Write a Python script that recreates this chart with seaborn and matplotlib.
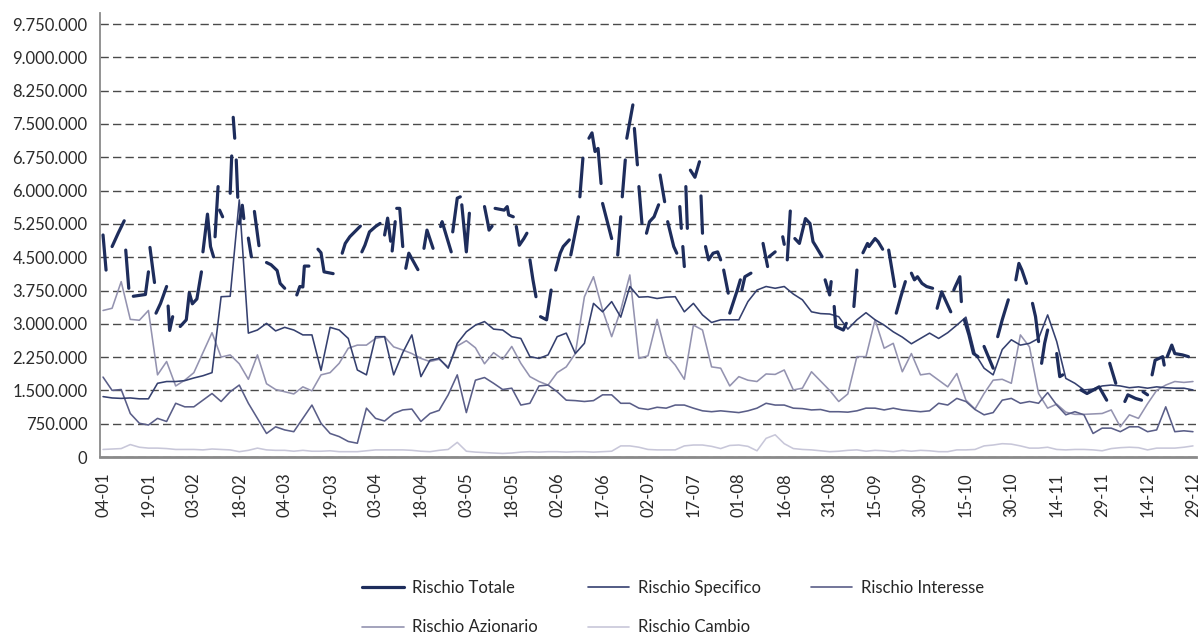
import numpy as np
import pandas as pd
import matplotlib
matplotlib.use("Agg")
import matplotlib.pyplot as plt
import seaborn as sns
from matplotlib.lines import Line2D

# ---------------- data ----------------
x_tick_labels = ['04-01', '19-01', '03-02', '18-02', '04-03', '19-03', '03-04', '18-04',
                 '03-05', '18-05', '02-06', '17-06', '02-07', '17-07', '01-08', '16-08',
                 '31-08', '15-09', '30-09', '15-10', '30-10', '14-11', '29-11', '14-12', '29-12']
tick_days = list(range(0, 361, 15))          # day offset of each tick label (from 04-01)

days = list(range(0, 361, 3))                # observation days of the thin series

# values in thousands of euro
specifico = [1360, 1330, 1320, 1330, 1310, 1310, 1660, 1700, 1700, 1720, 1780, 1830, 1900, 3610, 3620, 5790, 2790, 2860, 3010, 2840,
             2920, 2860, 2750, 2750, 1950, 2920, 2860, 2670, 1960, 1850, 2710, 2710, 1850, 2350, 2750, 1810, 2180, 2220, 2000, 2560,
             2820, 2970, 3050, 2880, 2860, 2710, 2670, 2260, 2220, 2300, 2710, 2790, 2330, 2560, 3460, 3270, 3500, 3150, 3840, 3600,
             3610, 3570, 3600, 3610, 3270, 3460, 3200, 3030, 3090, 3090, 3090, 3500, 3760, 3840, 3800, 3840, 3670, 3540, 3270, 3230,
             3220, 3160, 2880, 3090, 3250, 3090, 2970, 2820, 2700, 2550, 2670, 2790, 2670, 2800, 2970, 3150, 2330, 2000, 1850, 2420,
             2640, 2520, 2560, 2670, 3200, 2600, 1770, 1660, 1510, 1530, 1600, 1620, 1600, 1560, 1580, 1550, 1580, 1560, 1550, 1550, 1510]

interesse = [1800, 1500, 1520, 980, 760, 720, 870, 800, 1210, 1130, 1130, 1280, 1430, 1250, 1470, 1620, 1210, 870, 530, 680,
             610, 570, 870, 1170, 760, 530, 460, 350, 310, 1100, 870, 810, 980, 1060, 1080, 800, 980, 1050, 1400, 1850,
             1000, 1730, 1790, 1660, 1520, 1550, 1170, 1210, 1600, 1620, 1470, 1280, 1270, 1250, 1270, 1400, 1400, 1210, 1210, 1100,
             1070, 1120, 1100, 1170, 1170, 1100, 1040, 1020, 1040, 1020, 1000, 1040, 1100, 1210, 1170, 1170, 1100, 1090, 1060, 1070,
             1020, 1020, 1010, 1040, 1100, 1100, 1060, 1100, 1060, 1040, 1020, 1040, 1210, 1170, 1320, 1250, 1070, 950, 1000, 1280,
             1320, 1210, 1250, 1210, 1450, 1170, 950, 1020, 950, 530, 650, 650, 570, 680, 680, 570, 610, 1130, 570, 590, 570]

azionario = [3300, 3350, 3950, 3100, 3080, 3300, 1850, 2150, 1600, 1730, 1900, 2350, 2800, 2250, 2300, 2100, 1750, 2300, 1650, 1520,
             1470, 1420, 1580, 1490, 1850, 1900, 2110, 2450, 2520, 2520, 2670, 2710, 2480, 2410, 2330, 2220, 2150, 2200, 2030, 2500,
             2620, 2460, 2100, 2350, 2200, 2490, 2110, 1810, 1700, 1620, 1900, 2030, 2330, 3610, 4060, 3310, 2710, 3310, 4100, 2220,
             2280, 3100, 2300, 2070, 1750, 2970, 2860, 2030, 2000, 1600, 1810, 1730, 1700, 1870, 1860, 1960, 1510, 1550, 1920, 1710,
             1500, 1250, 1420, 2260, 2260, 3090, 2450, 2560, 1920, 2330, 1850, 1880, 1730, 1580, 1880, 1280, 1080, 1430, 1730, 1750,
             1660, 2750, 2480, 1430, 1100, 1190, 1010, 960, 960, 970, 980, 1060, 680, 950, 870, 1200, 1500, 1620, 1700, 1680, 1700]

cambio = [170, 180, 190, 280, 220, 200, 200, 190, 170, 170, 170, 160, 180, 170, 160, 120, 150, 200, 160, 150,
          150, 130, 150, 130, 130, 140, 120, 120, 120, 140, 160, 160, 160, 160, 150, 130, 120, 150, 170, 330,
          130, 110, 100, 90, 80, 90, 110, 120, 110, 120, 120, 110, 120, 120, 110, 120, 130, 250, 250, 220,
          170, 160, 160, 160, 250, 270, 270, 240, 190, 260, 270, 240, 140, 420, 500, 300, 190, 170, 160, 140,
          120, 130, 150, 160, 130, 150, 140, 120, 150, 130, 150, 140, 120, 120, 160, 160, 170, 250, 270, 300,
          290, 250, 200, 200, 220, 170, 160, 170, 170, 160, 140, 190, 210, 220, 210, 160, 200, 200, 200, 220, 250]

# Rischio Totale: days with gaps (None = missing observation -> broken line)
totale_days = [0, 1, None, 3, 5, 7, None, 7.5, 8.5, None, 10, 12, 14, 15, None, 15.5, 17, None,
               17.5, 19, 21, None, 21.5, 22, 23, None, 25.5, 27.5, 28.5, 29.5, 31, 32.5, None,
               33, 34.5, 35.5, 36.5, None, 37, 38, None, 38.5, 39.5, None, 42, 42.5, None, 43, 43.5, None,
               44, 44.5, None, 45, 46, 46.5, None, 48, 49, None, 50, 51.5, None, 54, 55.5, 57.5, 58.5, 60, None,
               64, 65, 66, 66.5, 68, None, 71, 72, 73, 76, None, 79, 80, 81.5, 85, None,
               85.5, 86.5, 88, 90, 91.5, None, 93, 94, 95, None, 95.5, 96.5, None, 97, 98, 99, None,
               100, 101, 104, None, 106, 107, 109, None, 111.5, 112, 115, None, 115.5, 117, 118, None,
               118.5, 120, 121, None, 126, 127, 127.5, 128.5, None, 129.5, 132.5, 133.5, 134, 135.5, None,
               136.5, 137.5, 139, 140, None, 141, 142, 143, None, 144.5, 146.5, 148, None,
               149.5, 151, 152, 154, None, 154.5, 157, None, 157.5, 158.5, None,
               160.5, 161.5, 162.5, 163.5, 164.5, None, 165, 168, None, 170, 171, None, 171.5, 172.5, None,
               173, 175, None, 175.5, 176.5, None, 177, 178, None,
               179.5, 180.5, 182, 183.5, None, 184, 185.5, None, 186.5, 188.5, 189.5, None,
               190.5, 191, None, 191.5, 192, None, 192.5, 193, None, 194, 195.5, 197, None, 197.5, 198, None,
               199, 200, 201.5, 203, 204, None, 205, 206.5, None, 207, 209.5, 210.5, None, 211, 212, 214, None,
               218, 219.5, None, 220, 222, None, 224.5, 225, None, 226, 227, None,
               228.5, 230, 232, 233.5, 234.5, 235.5, 237.5, None,
               238.5, 240, 240.5, None, 241.5, 242, 244.5, 245.5, None, 248, 249, None,
               251, 252.5, 253, 255, 256, 257.5, None, 259.5, 261.5, None, 262, 263.5, 265, None,
               267, 268, 269, 270.5, 272, 274, None, 275.5, 277, 280, None, 281, 281.5, 283, 283.5, None,
               284.5, 286, 287.5, 289, None, 291, 294, None, 295.5, 297, 299, None,
               301.5, 302.5, 303.5, 305, None, 307, 308, 309, None, 310, 311, 312, None, 315, 316, 317, None,
               323, 325, 329, 331.5, None, 332.5, 334.5, None, 337.5, 338.5, 341, 343, None, 343.5, 345, None,
               346.5, 347.5, 350, 350.5, None, 351.5, 353, 354, 356.5, 358.5]
totale_vals = [5000, 4210, None, 4740, 5040, 5320, None, 4660, 3800, None, 3620, 3640, 3660, 4170, None, 4720, 3930, None,
               3240, 3460, 3840, None, 3400, 2850, 3160, None, 2940, 3090, 3700, 3450, 3560, 4170, None,
               4620, 5470, 4740, 4510, None, 4960, 6090, None, 5560, 5410, None, 5940, 6780, None, 7650, 7180, None,
               6690, 5850, None, 5260, 5670, 5370, None, 4930, 4510, None, 5530, 4760, None, 4380, 4330, 4200, 3910, 3800, None,
               3650, 3840, 3830, 4300, 4300, None, 4680, 4600, 4170, 4130, None, 4590, 4810, 4960, 5200, None,
               4620, 4770, 5070, 5190, 5260, None, 5000, 5380, 4860, None, 4640, 5300, None, 5600, 5600, 4740, None,
               4250, 4590, 4220, None, 4700, 5110, 4700, None, 5190, 5300, 4620, None, 5070, 5830, 5860, None,
               5680, 4620, 5490, None, 5640, 5300, 5110, 5200, None, 5600, 5560, 5640, 5450, 5410, None,
               5190, 4770, 4920, 5040, None, 4440, 3990, 3610, None, 3160, 3090, 3760, None,
               4210, 4590, 4740, 4890, None, 4550, 5410, None, 5860, 6730, None,
               7180, 7300, 6880, 6950, 6160, None, 5710, 4920, None, 4550, 5410, None, 5860, 6690, None,
               7180, 7930, None, 7400, 6580, None, 6090, 5260, None,
               5040, 5300, 5410, 5680, None, 6350, 5750, None, 5300, 4740, 4590, None,
               5640, 5150, None, 4740, 4290, None, 6090, 5150, None, 6460, 6300, 6650, None, 5880, 5040, None,
               4740, 4440, 4590, 4620, 4440, None, 4210, 3690, None, 3240, 3760, 3990, None, 3760, 4060, 4140, None,
               4810, 4290, None, 4510, 4620, None, 4960, 4790, None, 4440, 5540, None,
               4920, 4810, 5370, 5260, 4850, 4740, 4510, None,
               3990, 3650, 3950, None, 3390, 2940, 2860, 3010, None, 3390, 4210, None,
               4600, 4810, 4740, 4920, 4850, 4680, None, 4660, 3840, None, 3240, 3610, 3950, None,
               4140, 3990, 4060, 3910, 3840, 3800, None, 3350, 3720, 3270, None, 3760, 3840, 4060, 3500, None,
               3090, 2750, 2330, 2260, None, 2490, 2000, None, 2710, 3090, 3540, None,
               3990, 4360, 4210, 3910, None, 3460, 3160, 2600, None, 2110, 2560, 2860, None, 2330, 1810, 1850, None,
               1510, 1430, 1580, 1280, None, 2110, 1660, None, 1250, 1400, 1320, 1280, None, 1470, 1400, None,
               1850, 2180, 2260, 2070, None, 2260, 2520, 2330, 2300, 2260]

colors = {'Rischio Totale': '#1e2d5c', 'Rischio Specifico': '#35406f',
          'Rischio Interesse': '#5a5e88', 'Rischio Azionario': '#9493b0',
          'Rischio Cambio': '#c8c7d9'}

# ---------------- frames ----------------
thin = pd.concat([
    pd.DataFrame({'day': days, 'value': np.array(v) * 1000, 'serie': n})
    for n, v in [('Rischio Specifico', specifico), ('Rischio Interesse', interesse),
                 ('Rischio Azionario', azionario), ('Rischio Cambio', cambio)]
], ignore_index=True)

rows, seg = [], 0
for d, v in zip(totale_days, totale_vals):
    if d is None:
        seg += 1
        continue
    rows.append((d, v * 1000, seg))
tot = pd.DataFrame(rows, columns=['day', 'value', 'seg'])

# ---------------- plot ----------------
sns.set_style('white')
plt.rcParams['font.family'] = ['Lato', 'DejaVu Sans']

fig = plt.figure(figsize=(12.03, 6.37), dpi=100)
ax = fig.add_axes([100 / 1203, 180 / 637, 1096 / 1203, 444 / 637])

ax.yaxis.grid(True, linestyle=(0, (6, 3)), color='#4a4a4a', linewidth=1.0)
ax.set_axisbelow(True)

sns.lineplot(data=thin, x='day', y='value', hue='serie',
             hue_order=['Rischio Cambio', 'Rischio Azionario', 'Rischio Interesse', 'Rischio Specifico'],
             palette=colors, estimator=None, sort=False, linewidth=1.15, legend=False, ax=ax)
sns.lineplot(data=tot, x='day', y='value', units='seg', estimator=None, sort=False,
             color=colors['Rischio Totale'], linewidth=2.3, legend=False, ax=ax)

ax.set_xlim(-1, 361)
ax.set_ylim(0, 10_000_000)
yt = np.arange(0, 9_750_001, 750_000)
ax.set_yticks(yt)
ax.set_yticklabels([f"{int(v):,}".replace(',', '.') for v in yt])
ax.set_xticks(tick_days)
ax.set_xticklabels(x_tick_labels, rotation=90)
ax.set_xlabel('')
ax.set_ylabel('')
ax.tick_params(axis='y', length=0, pad=9, labelsize=12, labelcolor='#2b2b2b')
ax.tick_params(axis='x', length=0, pad=11, labelsize=12, labelcolor='#2b2b2b')

for s in ['top', 'right']:
    ax.spines[s].set_visible(False)
ax.spines['left'].set_color('#8a8a8a')
ax.spines['left'].set_linewidth(1.3)
ax.spines['bottom'].set_color('#8a8a8a')
ax.spines['bottom'].set_linewidth(2.0)

widths = {'Rischio Totale': 2.3}
order = ['Rischio Totale', 'Rischio Azionario', 'Rischio Specifico', 'Rischio Cambio', 'Rischio Interesse']
handles = [Line2D([], [], color=colors[n], linewidth=widths.get(n, 1.2)) for n in order]
fig.legend(handles, order, loc='upper left', bbox_to_anchor=(362 / 1203, 57 / 637),
           ncol=3, frameon=False, fontsize=12, handlelength=2.5, handletextpad=0.5,
           columnspacing=3.0, labelspacing=1.4, borderpad=0, borderaxespad=0)

fig.savefig('out.png', dpi=100)
